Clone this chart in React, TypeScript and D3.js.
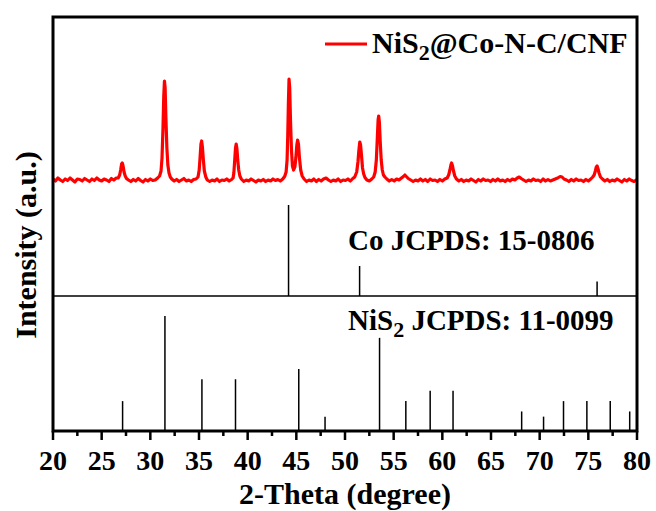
import React from "react";
import * as d3 from "d3";

// ---- data ----
const xrdCurve: [number, number][] = [
  [20.0, 21], [20.25, 19], [20.5, 22], [20.75, 20], [21.0, 18.5], [21.25, 21], [21.5, 19.5], [21.75, 22],
  [22.0, 20], [22.25, 18], [22.5, 21], [22.75, 20.5], [23.0, 19], [23.25, 21.5], [23.5, 20], [23.75, 18.5],
  [24.0, 21], [24.25, 19.5], [24.5, 22], [24.75, 20], [25.0, 19], [25.25, 21], [25.5, 20], [25.75, 18.5],
  [26.0, 21.5], [26.25, 20], [26.5, 22],
  [26.7, 22], [26.85, 25], [26.95, 30], [27.05, 36], [27.12, 37], [27.2, 34], [27.3, 28], [27.42, 24], [27.55, 21.5], [27.75, 20],
  [28.0, 18.5], [28.25, 20.5], [28.5, 19], [28.75, 21.5], [29.0, 19.5], [29.25, 18], [29.5, 20.5], [29.75, 19],
  [30.0, 21], [30.25, 19.5], [30.5, 20], [30.75, 22], [30.95, 24],
  [31.1, 29], [31.2, 42], [31.3, 72], [31.38, 104], [31.45, 119], [31.52, 112], [31.6, 82], [31.7, 52], [31.8, 35], [31.92, 27], [32.05, 23], [32.2, 21],
  [32.45, 19], [32.7, 20.5], [32.95, 18.5], [33.2, 20], [33.45, 21.5], [33.7, 19], [33.95, 20], [34.2, 18.5], [34.45, 20.5], [34.7, 21], [34.9, 23],
  [35.02, 30], [35.12, 44], [35.2, 56], [35.27, 59], [35.35, 53], [35.45, 40], [35.55, 29], [35.7, 23], [35.85, 20],
  [36.1, 18.5], [36.35, 20], [36.6, 19], [36.85, 21], [37.1, 18.5], [37.35, 20], [37.6, 19.5], [37.85, 21], [38.1, 19], [38.35, 20.5], [38.5, 22],
  [38.58, 27], [38.67, 40], [38.75, 52], [38.82, 56], [38.9, 51], [38.98, 40], [39.08, 30], [39.2, 24], [39.35, 21],
  [39.6, 18.5], [39.85, 20], [40.1, 19], [40.35, 21], [40.6, 19.5], [40.85, 18], [41.1, 20], [41.35, 19], [41.6, 20.5], [41.85, 18.5],
  [42.1, 20], [42.35, 19], [42.6, 21], [42.85, 19.5], [43.1, 20.5], [43.35, 19], [43.6, 21], [43.8, 23.5], [43.95, 28],
  [44.05, 40], [44.12, 65], [44.18, 95], [44.25, 121], [44.32, 112], [44.4, 80], [44.5, 50], [44.6, 34], [44.72, 30], [44.85, 33],
  [44.95, 42], [45.05, 55], [45.13, 60], [45.22, 56], [45.32, 42], [45.45, 30], [45.6, 24], [45.8, 21],
  [46.05, 18.5], [46.3, 20], [46.55, 19], [46.8, 21], [47.05, 18.5], [47.3, 20.5], [47.55, 19], [47.8, 21], [48.05, 22], [48.3, 20],
  [48.55, 18.5], [48.8, 20], [49.05, 19], [49.3, 21], [49.55, 18.5], [49.8, 20], [50.05, 19.5], [50.3, 21], [50.55, 19], [50.8, 21.5], [51.0, 23],
  [51.2, 28], [51.33, 38], [51.43, 50], [51.52, 58], [51.6, 55], [51.7, 44], [51.8, 32], [51.92, 26], [52.05, 22.5], [52.25, 20],
  [52.5, 19], [52.75, 21], [52.95, 23],
  [53.1, 28], [53.22, 40], [53.32, 62], [53.4, 80], [53.46, 84], [53.53, 78], [53.62, 58], [53.72, 40], [53.83, 30], [53.95, 25], [54.1, 23], [54.3, 21],
  [54.55, 19], [54.8, 20.5], [55.05, 19], [55.3, 21], [55.55, 20], [55.8, 22], [56.0, 23.5], [56.15, 25], [56.3, 23.5], [56.5, 21.5], [56.75, 20],
  [57.0, 18.5], [57.25, 20], [57.5, 19], [57.75, 21], [58.0, 19], [58.25, 20.5], [58.5, 18.5], [58.75, 21], [59.0, 19.5], [59.25, 20],
  [59.5, 18.5], [59.75, 20.5], [60.0, 19], [60.25, 21], [60.5, 22],
  [60.65, 25], [60.78, 30], [60.88, 35], [60.95, 37], [61.05, 34], [61.15, 29], [61.28, 24], [61.45, 21],
  [61.7, 19], [61.95, 20.5], [62.2, 18.5], [62.45, 20], [62.7, 19], [62.95, 21], [63.2, 19.5], [63.45, 18], [63.7, 20.5], [63.95, 19],
  [64.2, 21], [64.45, 19.5], [64.7, 20], [64.95, 18.5], [65.2, 20.5], [65.45, 19], [65.7, 21], [65.95, 19], [66.2, 20], [66.45, 18.5],
  [66.7, 20.5], [66.95, 19], [67.2, 21], [67.45, 20], [67.7, 22], [67.9, 23], [68.1, 21.5], [68.35, 20], [68.6, 18.5], [68.85, 20],
  [69.1, 19], [69.35, 21], [69.6, 19.5], [69.85, 20], [70.1, 18.5], [70.35, 21], [70.6, 19], [70.85, 20.5], [71.1, 19], [71.35, 20],
  [71.6, 21], [71.85, 22], [72.1, 23.5], [72.3, 23], [72.5, 21], [72.75, 20], [73.0, 18.5], [73.25, 20.5], [73.5, 19], [73.75, 21],
  [74.0, 19.5], [74.25, 20], [74.5, 18.5], [74.75, 20.5], [75.0, 19], [75.25, 21], [75.45, 23],
  [75.6, 25], [75.72, 29], [75.82, 33], [75.9, 34], [76.0, 31], [76.1, 27], [76.25, 23], [76.45, 21],
  [76.7, 19], [76.95, 20.5], [77.2, 18.5], [77.45, 20], [77.7, 19], [77.95, 21], [78.2, 19.5], [78.45, 18], [78.7, 20.5], [78.95, 19],
  [79.2, 21], [79.45, 19.5], [79.7, 18.5], [80.0, 20.5],
];

const coPositions = [44.2, 51.5, 75.9];
const coIntensities = [100, 33, 16];

const nis2Positions = [27.15, 31.5, 35.3, 38.75, 45.25, 47.95, 53.55, 56.25, 58.75, 61.1, 68.15, 70.4, 72.45, 74.85, 77.25, 79.25];
const nis2Intensities = [26, 100, 45, 45, 54, 12.5, 81, 26, 35, 35, 17, 12.5, 26, 26, 26, 17];

const xTicks = [20, 25, 30, 35, 40, 45, 50, 55, 60, 65, 70, 75, 80];
const xMinorTicks = [22.5, 27.5, 32.5, 37.5, 42.5, 47.5, 52.5, 57.5, 62.5, 67.5, 72.5, 77.5];

const FONT = "'Liberation Serif', 'Times New Roman', serif";

export default function App() {
  const left = 53, right = 637, top = 17, bottom = 431;
  const x = d3.scaleLinear().domain([20, 80]).range([left, right]);
  const yRed = d3.scaleLinear().domain([0, 200]).range([200, 0]);
  const yCo = d3.scaleLinear().domain([0, 100]).range([296, 205]);
  const yNi = d3.scaleLinear().domain([0, 100]).range([bottom, 316]);

  const line = d3.line<[number, number]>().x(d => x(d[0])).y(d => yRed(d[1]));

  return (
    <svg width={656} height={511} style={{ position: "absolute", left: 0, top: 0, background: "#fff" }}>
      <rect x={0} y={0} width={656} height={511} fill="#fff" />
      {/* red curve */}
      <path d={line(xrdCurve) ?? ""} fill="none" stroke="#ff0000" strokeWidth={3.2} strokeLinejoin="round" />
      {/* Co divider */}
      <line x1={left} x2={right} y1={yCo(0)} y2={yCo(0)} stroke="#000" strokeWidth={1.5} />
      {coPositions.map((p, i) => (
        <line key={"co" + i} x1={x(p)} x2={x(p)} y1={yCo(0)} y2={yCo(coIntensities[i])} stroke="#000" strokeWidth={1.5} />
      ))}
      {nis2Positions.map((p, i) => (
        <line key={"ni" + i} x1={x(p)} x2={x(p)} y1={yNi(0)} y2={yNi(nis2Intensities[i])} stroke="#000" strokeWidth={1.5} />
      ))}
      {/* frame */}
      <rect x={left} y={top} width={right - left} height={bottom - top} fill="none" stroke="#000" strokeWidth={3} />
      {/* ticks */}
      {xTicks.map(t => (
        <g key={"t" + t}>
          <line x1={x(t)} x2={x(t)} y1={bottom} y2={bottom + 9} stroke="#000" strokeWidth={2.5} />
          <text x={x(t)} y={470} textAnchor="middle" fontFamily={FONT} fontWeight="bold" fontSize={28}>{t}</text>
        </g>
      ))}
      {xMinorTicks.map(t => (
        <line key={"m" + t} x1={x(t)} x2={x(t)} y1={bottom} y2={bottom + 5} stroke="#000" strokeWidth={2.5} />
      ))}
      {/* axis titles */}
      <text x={(left + right) / 2} y={504} textAnchor="middle" fontFamily={FONT} fontWeight="bold" fontSize={30}>2-Theta (degree)</text>
      <text transform={`translate(36,${245}) rotate(-90)`} textAnchor="middle" fontFamily={FONT} fontWeight="bold" fontSize={30}>Intensity (a.u.)</text>
      {/* legend */}
      <line x1={325} x2={367} y1={44} y2={44} stroke="#ff0000" strokeWidth={3} />
      <text x={372} y={53} fontFamily={FONT} fontWeight="bold" fontSize={30}>
        NiS<tspan fontSize={22} dy={7}>2</tspan><tspan dy={-7}>@Co-N-C/CNF</tspan>
      </text>
      {/* reference labels */}
      <text x={348} y={250} fontFamily={FONT} fontWeight="bold" fontSize={29}>Co JCPDS: 15-0806</text>
      <text x={348} y={330} fontFamily={FONT} fontWeight="bold" fontSize={29}>
        NiS<tspan fontSize={22} dy={7}>2</tspan><tspan dy={-7}> JCPDS: 11-0099</tspan>
      </text>
    </svg>
  );
}
